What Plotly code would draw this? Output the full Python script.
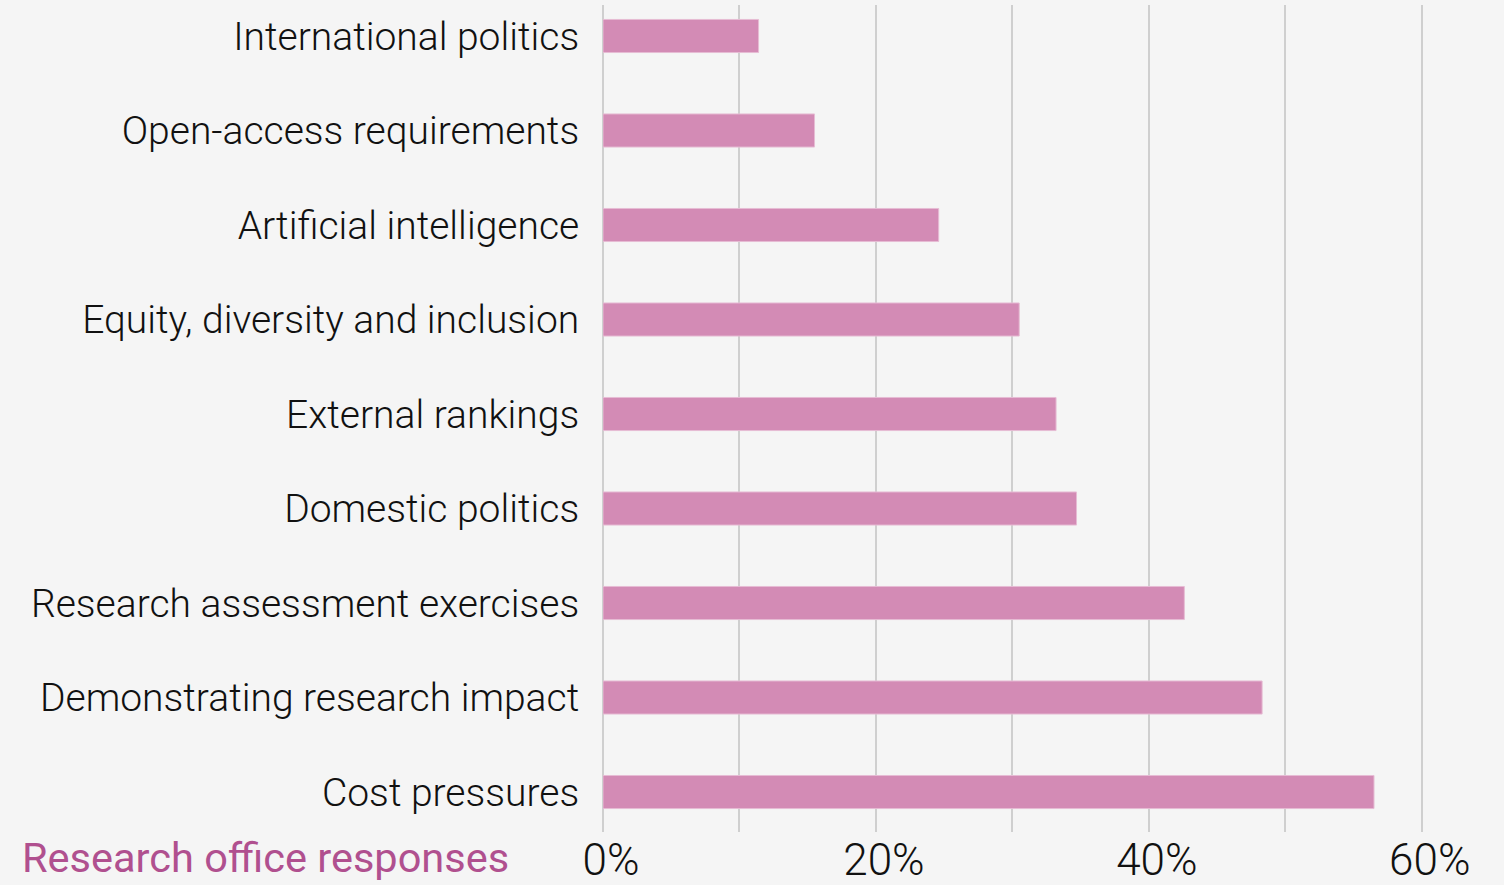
import plotly.graph_objects as go

# Survey: pressures cited by research offices (share of responses, %)
categories = [
    "International politics",
    "Open-access requirements",
    "Artificial intelligence",
    "Equity, diversity and inclusion",
    "External rankings",
    "Domestic politics",
    "Research assessment exercises",
    "Demonstrating research impact",
    "Cost pressures",
]
shares = [11.4, 15.5, 24.6, 30.5, 33.2, 34.7, 42.6, 48.3, 56.5]

tick_values = [0, 10, 20, 30, 40, 50, 60]
tick_labels = ["0%", "", "20%", "", "40%", "", "60%"]

BG = "#f5f5f5"
BAR = "#d38bb5"
ACCENT = "#b0508f"
FONT = "Roboto"

fig = go.Figure(
    go.Bar(
        x=shares,
        y=categories,
        orientation="h",
        width=0.35,
        marker=dict(color=BAR, line=dict(color="#e6bcd4", width=1)),
        hoverinfo="x+y",
    )
)

fig.update_layout(
    width=1504,
    height=885,
    margin=dict(l=603, r=14, t=5, b=53),
    paper_bgcolor=BG,
    plot_bgcolor=BG,
    showlegend=False,
    xaxis=dict(
        range=[0, 65],
        tickvals=tick_values,
        ticktext=tick_labels,
        automargin=False,
        showgrid=True,
        gridcolor="#cfcfcf",
        gridwidth=1.5,
        zeroline=True,
        zerolinecolor="#cfcfcf",
        zerolinewidth=1.5,
        showline=False,
        ticks="",
        ticklabelshift=8,
        ticklabelstandoff=-2,
        tickfont=dict(family=FONT, size=44, color="#111111", weight=300),
    ),
    yaxis=dict(
        type="category",
        range=[8.423, -0.328],
        automargin=False,
        showgrid=False,
        zeroline=False,
        showline=False,
        ticks="outside",
        ticklen=15,
        tickcolor=BG,
        tickfont=dict(family=FONT, size=39, color="#111111", weight=300),
    ),
    annotations=[
        dict(
            text="Research office responses",
            xref="paper",
            yref="paper",
            x=(20 - 603) / 887,
            y=(832 - 857) / 827,
            xanchor="left",
            yanchor="middle",
            showarrow=False,
            font=dict(family=FONT, size=41.5, color=ACCENT, weight=400),
        )
    ],
)

fig.write_html("out.html")
